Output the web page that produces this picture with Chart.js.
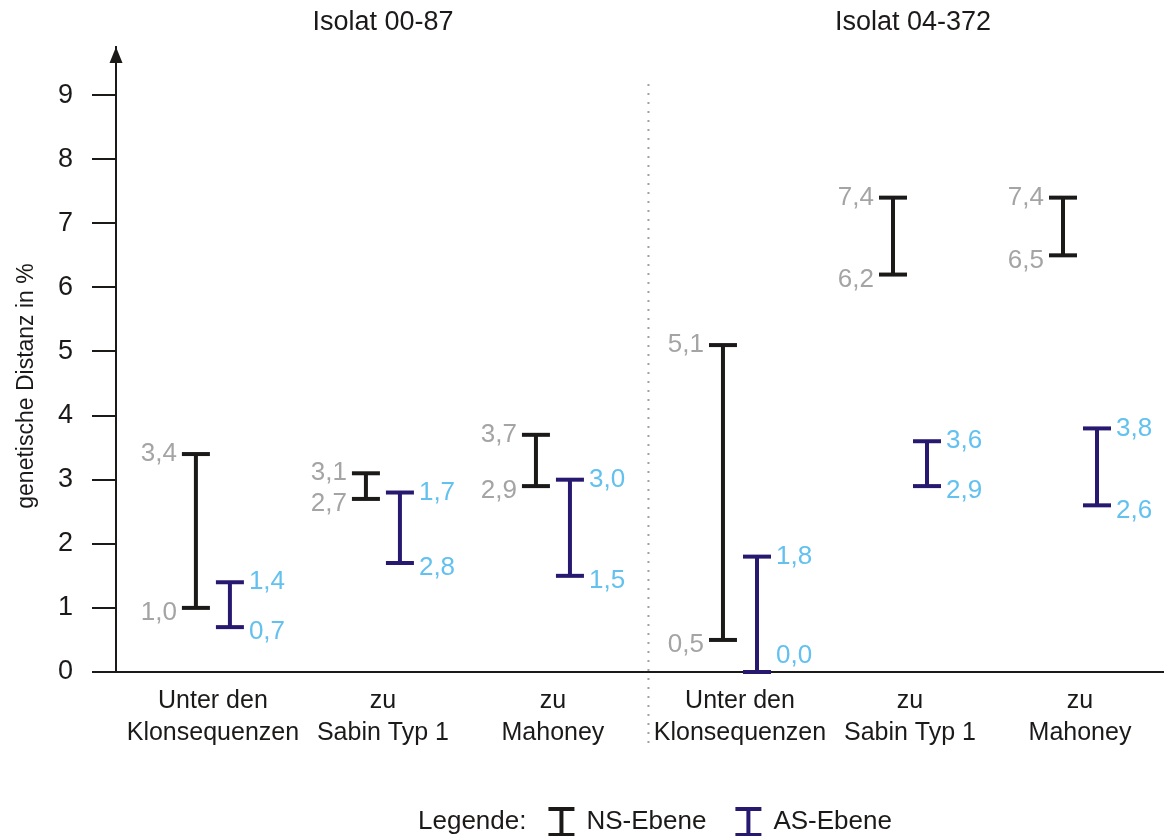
<!DOCTYPE html>
<html>
<head>
<meta charset="utf-8">
<script src="https://cdn.jsdelivr.net/npm/chart.js@4.4.1/dist/chart.umd.min.js"></script>
<style>
  body { margin: 0; background: #fff; }
  canvas { display: block; }
</style>
</head>
<body>
<canvas id="chart" width="1164" height="836"></canvas>
<script>
// Genetische Distanz (Min/Max) NS- und AS-Ebene
var categories = [
    ['Unter den', 'Klonsequenzen'], ['zu', 'Sabin Typ 1'], ['zu', 'Mahoney'],
    ['Unter den', 'Klonsequenzen'], ['zu', 'Sabin Typ 1'], ['zu', 'Mahoney']
];
var isolates = ['Isolat 00-87', 'Isolat 04-372'];
var nsLow = [1.0, 2.7, 2.9, 0.5, 6.2, 6.5];
var nsHigh = [3.4, 3.1, 3.7, 5.1, 7.4, 7.4];
var asLow = [0.7, 1.7, 1.5, 0.0, 2.9, 2.6];
var asHigh = [1.4, 2.8, 3.0, 1.8, 3.6, 3.8];
// labels as printed in the figure (group 2 has them swapped)
var asLowText = ['0,7', '2,8', '1,5', '0,0', '2,9', '2,6'];
var asHighText = ['1,4', '1,7', '3,0', '1,8', '3,6', '3,8'];
var yTicks = [0, 1, 2, 3, 4, 5, 6, 7, 8, 9];

var NS_COLOR = '#1c1a19';
var AS_COLOR = '#27196f';
var NS_TEXT = '#a4a4a4';
var AS_TEXT = '#62c1ef';
var FONT = '"Liberation Sans", Arial, sans-serif';
var OFF = 0.1;
var CAP = 14;

function xPos(i) { return i + (i >= 3 ? 0.1 : 0); }
function fmt(v) { return v.toFixed(1).replace('.', ','); }

function rangeSet(i, lo, hi, off, color) {
    return {
        data: [{ x: xPos(i) + off, y: lo }, { x: xPos(i) + off, y: hi }],
        showLine: true,
        borderColor: color,
        borderWidth: 4,
        pointStyle: 'line',
        pointRadius: CAP,
        pointHoverRadius: CAP,
        pointBorderColor: color,
        pointBackgroundColor: color,
        pointBorderWidth: 4,
        pointHoverBorderWidth: 4,
        clip: false
    };
}

var datasets = [];
categories.forEach(function (c, i) {
    datasets.push(rangeSet(i, nsLow[i], nsHigh[i], -OFF, NS_COLOR));
    datasets.push(rangeSet(i, asLow[i], asHigh[i], OFF, AS_COLOR));
});

var extras = {
    id: 'extras',
    afterDraw: function (chart) {
        var ctx = chart.ctx, x = chart.scales.x, y = chart.scales.y, area = chart.chartArea;
        ctx.save();

        // divider between the two isolates
        var mid = x.getPixelForValue((xPos(2) + xPos(3)) / 2) + 2;
        ctx.strokeStyle = '#a0a0a0';
        ctx.lineWidth = 2;
        ctx.setLineDash([2, 7]);
        ctx.beginPath();
        ctx.moveTo(mid, 84);
        ctx.lineTo(mid, 750);
        ctx.stroke();
        ctx.setLineDash([]);

        // arrow on y axis
        ctx.fillStyle = '#1c1a19';
        ctx.beginPath();
        ctx.moveTo(area.left, area.top);
        ctx.lineTo(area.left - 6.5, area.top + 16);
        ctx.lineTo(area.left + 6.5, area.top + 16);
        ctx.closePath();
        ctx.fill();

        // y axis title
        ctx.save();
        ctx.translate(27, 386);
        ctx.rotate(-Math.PI / 2);
        ctx.font = '23px ' + FONT;
        ctx.textAlign = 'center';
        ctx.textBaseline = 'middle';
        ctx.fillText('genetische Distanz in %', 0, 0);
        ctx.restore();

        // isolate titles
        ctx.font = '27px ' + FONT;
        ctx.fillStyle = '#1c1a19';
        ctx.textAlign = 'center';
        ctx.textBaseline = 'middle';
        ctx.fillText(isolates[0], x.getPixelForValue(xPos(1)), 23);
        ctx.fillText(isolates[1], x.getPixelForValue(xPos(4)) + 3, 23);

        // value labels
        ctx.font = '26px ' + FONT;
        categories.forEach(function (c, i) {
            var nx = x.getPixelForValue(xPos(i) - OFF) - CAP - 5;
            var ax = x.getPixelForValue(xPos(i) + OFF) + CAP + 5;
            ctx.fillStyle = NS_TEXT;
            ctx.textAlign = 'right';
            ctx.fillText(fmt(nsHigh[i]), nx, y.getPixelForValue(nsHigh[i]));
            ctx.fillText(fmt(nsLow[i]), nx, y.getPixelForValue(nsLow[i]) + 5);
            ctx.fillStyle = AS_TEXT;
            ctx.textAlign = 'left';
            ctx.fillText(asHighText[i], ax, y.getPixelForValue(asHigh[i]));
            var ly = y.getPixelForValue(asLow[i]) + 5;
            if (asLow[i] === 0) ly = y.getPixelForValue(0) - 16;
            ctx.fillText(asLowText[i], ax, ly);
        });

        // legend
        var ly2 = 822, lx = 418;
        ctx.font = '26px ' + FONT;
        ctx.fillStyle = '#1c1a19';
        ctx.textAlign = 'left';
        ctx.fillText('Legende:', lx, ly2);
        lx += ctx.measureText('Legende:').width + 22;
        [['NS-Ebene', NS_COLOR], ['AS-Ebene', AS_COLOR]].forEach(function (item) {
            var cx = lx + 13;
            ctx.strokeStyle = item[1];
            ctx.lineWidth = 4;
            ctx.beginPath();
            ctx.moveTo(cx - 13, ly2 - 13); ctx.lineTo(cx + 13, ly2 - 13);
            ctx.moveTo(cx, ly2 - 13); ctx.lineTo(cx, ly2 + 13);
            ctx.moveTo(cx - 13, ly2 + 13); ctx.lineTo(cx + 13, ly2 + 13);
            ctx.stroke();
            lx += 38;
            ctx.fillStyle = '#1c1a19';
            ctx.fillText(item[0], lx, ly2);
            lx += ctx.measureText(item[0]).width + 29;
        });

        ctx.restore();
    }
};

new Chart(document.getElementById('chart'), {
    type: 'scatter',
    data: { datasets: datasets },
    options: {
        responsive: false,
        animation: false,
        events: [],
        layout: { autoPadding: false, padding: { top: 47, left: 0, right: 0, bottom: 0 } },
        plugins: {
            legend: { display: false },
            tooltip: { enabled: false }
        },
        scales: {
            x: {
                type: 'linear',
                min: -0.57,
                max: 5.594,
                afterFit: function (s) {
                    s.height = 164;
                    s.paddingLeft = 0;
                    s.paddingRight = 0;
                },
                afterBuildTicks: function (s) {
                    s.ticks = categories.map(function (c, i) { return { value: xPos(i) }; });
                },
                grid: { display: false, drawTicks: false },
                border: { display: true, color: '#1c1a19', width: 2 },
                ticks: {
                    autoSkip: false,
                    maxRotation: 0,
                    padding: 13,
                    color: '#1c1a19',
                    font: { family: FONT, size: 25, lineHeight: 1.28 },
                    callback: function (v, i) { return categories[i]; }
                }
            },
            y: {
                min: 0,
                max: 9.75,
                afterFit: function (s) {
                    s.width = 116;
                    s.paddingTop = 0;
                    s.paddingBottom = 0;
                },
                afterBuildTicks: function (s) {
                    s.ticks = yTicks.map(function (v) { return { value: v }; });
                },
                grid: {
                    display: true,
                    drawOnChartArea: false,
                    drawTicks: true,
                    tickLength: 24,
                    tickColor: '#1c1a19',
                    lineWidth: 2
                },
                border: { display: true, color: '#1c1a19', width: 2 },
                ticks: {
                    padding: 19,
                    color: '#1c1a19',
                    font: { family: FONT, size: 27 }
                }
            }
        }
    },
    plugins: [extras]
});
</script>
</body>
</html>
